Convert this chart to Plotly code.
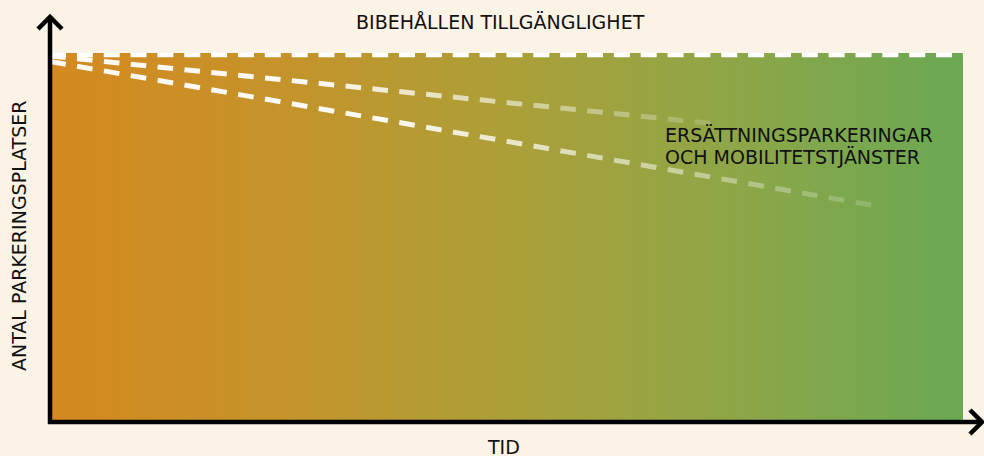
import plotly.graph_objects as go

# ---- data (schematic) ----
time_span = [0, 100]                 # time axis extent of the coloured area
capacity = [100, 100]                # retained accessibility (top edge)
time_upper = [0, 72.5]               # upper scenario line
parking_upper = [99.2, 80.9]
time_lower = [0, 90.4]               # lower scenario line
parking_lower = [97.7, 58.6]

title_text = "BIBEHÅLLEN TILLGÄNGLIGHET"
x_label = "TID"
y_label = "ANTAL PARKERINGSPLATSER"
note_lines = ["ERSÄTTNINGSPARKERINGAR", "OCH MOBILITETSTJÄNSTER"]

BG = "#FBF3E6"
FONT = "DejaVu Sans"
FS = 19

# pixel scale helpers (for styling only)
W, H = 984, 456
XPX = 9.13   # px per x unit
YPX = 3.69   # px per y unit
x_range = [-50 / XPX, (W - 50) / XPX]
y_range = [-(H - 422) / YPX, 422 / YPX]

fig = go.Figure()

# gradient area
fig.add_trace(go.Scatter(
    x=[time_span[0], time_span[1], time_span[1], time_span[0], time_span[0]],
    y=[0, 0, capacity[1], capacity[0], 0],
    mode="lines", fill="toself", line=dict(width=0),
    fillgradient=dict(type="horizontal", colorscale=[
        [0.0, "#D4891F"], [0.25, "#C5932A"], [0.5, "#AC9F38"],
        [0.75, "#8EA648"], [1.0, "#6AA853"]]),
    hoverinfo="skip", showlegend=False))

# top dashed line (retained accessibility)
fig.add_trace(go.Scatter(
    x=time_span, y=[c - 2 / YPX for c in capacity], mode="lines",
    line=dict(color="white", width=4.5, dash="16px,10.85px"),
    hoverinfo="skip", showlegend=False))


def alpha_at(t):
    if t < 0.4:
        return 0.95
    return 0.95 - 0.8 * (t - 0.4) / 0.6


def add_fading_dashes(xs, ys):
    x0, x1 = xs
    y0, y1 = ys
    period = 26.85 / XPX
    dash = 15.5 / XPX
    k = 0
    while True:
        a = x0 + 0.2 / XPX + k * period
        if a >= x1:
            break
        b = min(a + dash, x1)
        ya = y0 + (y1 - y0) * (a - x0) / (x1 - x0)
        yb = y0 + (y1 - y0) * (b - x0) / (x1 - x0)
        t = ((a + b) / 2 - x0) / (x1 - x0)
        fig.add_trace(go.Scatter(
            x=[a, b], y=[ya, yb], mode="lines",
            line=dict(color=f"rgba(255,255,255,{alpha_at(t):.3f})", width=5),
            hoverinfo="skip", showlegend=False))
        k += 1


add_fading_dashes(time_upper, parking_upper)
add_fading_dashes(time_lower, parking_lower)

# axes with open arrowheads
wx = 12 / XPX
wy = 12 / YPX
ytip = (422 - 17) / YPX
xtip = (982 - 50) / XPX
fig.add_trace(go.Scatter(
    x=[-wx, 0, wx, None, 0, 0],
    y=[ytip - wy, ytip, ytip - wy, None, ytip, -2 / YPX],
    mode="lines", line=dict(color="black", width=4.5),
    hoverinfo="skip", showlegend=False))
fig.add_trace(go.Scatter(
    x=[xtip - wx, xtip, xtip - wx, None, xtip, -2 / XPX],
    y=[wy, 0, -wy, None, 0, 0],
    mode="lines", line=dict(color="black", width=4.5),
    hoverinfo="skip", showlegend=False))

tfont = dict(size=FS, family=FONT, color="#111111")
annotations = [
    dict(x=(500 - 50) / XPX, y=(422 - 21.5) / YPX, text=title_text,
         showarrow=False, font=tfont, xanchor="center", yanchor="middle"),
    dict(x=(503 - 50) / XPX, y=-(447 - 422) / YPX, text=x_label,
         showarrow=False, font=tfont, xanchor="center", yanchor="middle"),
    dict(x=-(50 - 19) / XPX, y=(422 - 236) / YPX, text=y_label,
         showarrow=False, font=tfont, textangle=-90,
         xanchor="center", yanchor="middle"),
]
for i, line in enumerate(note_lines):
    annotations.append(dict(
        x=(663 - 50) / XPX, y=(422 - (134.5 + 22 * i)) / YPX, text=line,
        showarrow=False, font=tfont, xanchor="left", yanchor="middle",
        align="left"))

fig.update_layout(
    width=W, height=H,
    margin=dict(l=0, r=0, t=0, b=0),
    paper_bgcolor=BG, plot_bgcolor=BG,
    xaxis=dict(range=x_range, visible=False, fixedrange=True),
    yaxis=dict(range=y_range, visible=False, fixedrange=True),
    font=dict(family=FONT, color="#111111"),
    annotations=annotations,
)

fig.write_html(
    "out.html",
    config={"displayModeBar": False, "staticPlot": True},
    post_script=("document.body.style.margin='0';"
                 "document.body.style.padding='0';"
                 "document.body.style.background='" + BG + "';"),
)
